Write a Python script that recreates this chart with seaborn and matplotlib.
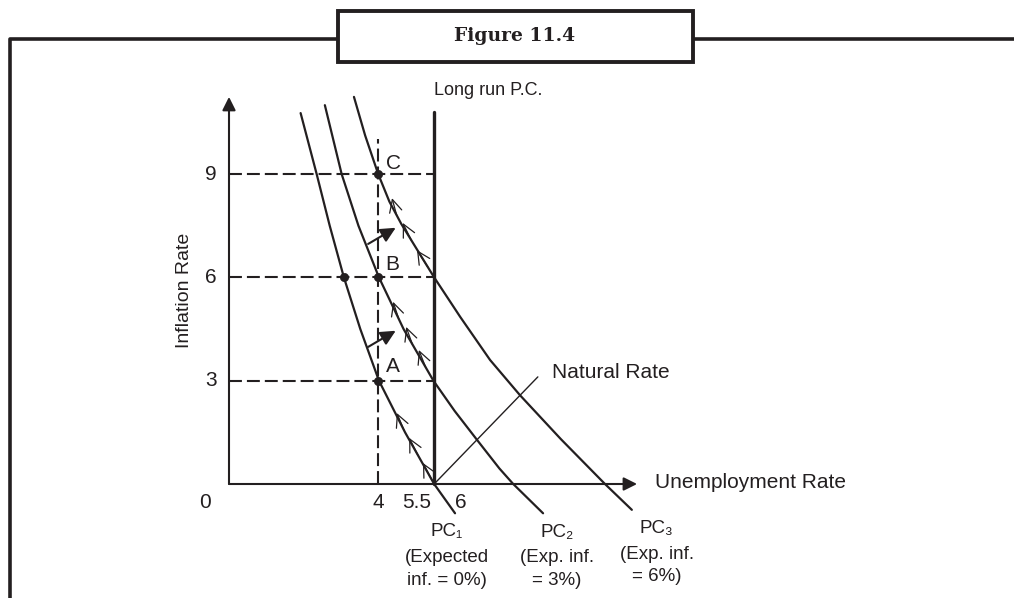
import numpy as np
import pandas as pd
import matplotlib.pyplot as plt
import seaborn as sns
from matplotlib.patches import Rectangle

# Phillips curves (unemployment %, inflation %)
pc1_x = [1.92, 2.35, 2.70, 3.08, 3.52, 4.02, 4.72, 5.5, 6.06]
pc1_y = [10.77, 9.0, 7.5, 6.0, 4.5, 3.0, 1.5, 0.0, -0.85]
pc2_x = [2.57, 3.02, 3.47, 4.02, 4.68, 5.48, 6.05, 6.65, 7.25, 7.62, 8.42]
pc2_y = [11.0, 9.0, 7.5, 6.0, 4.5, 3.0, 2.12, 1.28, 0.45, 0.0, -0.85]
pc3_x = [3.35, 3.65, 4.0, 4.30, 4.62, 5.5, 6.2, 7.0, 7.8, 8.9, 10.08, 10.8]
pc3_y = [11.24, 10.12, 9.0, 8.2, 7.55, 6.0, 4.85, 3.6, 2.58, 1.3, 0.0, -0.75]

natural_rate = 5.5
long_run_top = 10.8
natural_x = [5.5, 8.28]
natural_y = [0.0, 3.11]

inflation_levels = [3, 6, 9]
actual_u = 4
actual_u_top = 10.02

dots_x = [4, 4, 4, 3.08]
dots_y = [3, 6, 9, 6]
point_names = ['A', 'B', 'C']

# small arrow marks along the curves (tip positions)
chev_pc1 = [(4.50, 2.06), (4.83, 1.34), (5.20, 0.61)]
chev_pc2 = [(4.40, 5.29), (4.75, 4.56), (5.09, 3.89)]
chev_pc3 = [(4.37, 8.30), (4.66, 7.58), (5.04, 6.79)]

# shifts of the short run curve
shift_from = [(3.73, 3.98), (3.73, 6.97)]
shift_to = [(4.47, 4.45), (4.47, 7.44)]

x_tick_labels = ['0', '4', '5.5', '6']
y_tick_labels = ['3', '6', '9']
pc_names = ['PC\u2081', 'PC\u2082', 'PC\u2083']
pc_notes = [['(Expected', 'inf. = 0%)'], ['(Exp. inf.', '= 3%)'], ['(Exp. inf.', '= 6%)']]

ink = '#231f20'

sns.set_theme(style='white')
plt.rcParams['font.family'] = ['Liberation Sans', 'DejaVu Sans']

W, H = 1014, 598
fig = plt.figure(figsize=(W / 100, H / 100), dpi=100)
ax = fig.add_axes([0, 0, 1, 1])
# pixel mapping of the drawing
x0, xs, y0, ys = 229, 37.3, 484, 34.44
ax.set_xlim(-x0 / xs, (W - x0) / xs)
ax.set_ylim(-(H - y0) / ys, y0 / ys)
ax.axis('off')

# outer frame and title box
ax.plot([10 / W, 10 / W, 1.0], [0.0, 1 - 38.5 / H, 1 - 38.5 / H], transform=ax.transAxes,
        color=ink, lw=2.6, clip_on=False, solid_capstyle='butt')
ax.add_patch(Rectangle((338 / W, 1 - 62 / H), 355 / W, 51 / H, transform=ax.transAxes,
                       facecolor='white', edgecolor=ink, lw=2.8, zorder=5))
ax.text(515 / W, 1 - 36 / H, 'Figure 11.4', transform=ax.transAxes, ha='center', va='center',
        fontsize=13.5, fontweight='bold', family=['DejaVu Serif'], color=ink, zorder=6)

# axes with arrow heads
ax.annotate('', xy=(0, 11.24), xytext=(0, 0),
            arrowprops=dict(arrowstyle='-|>', color=ink, lw=1.5, mutation_scale=20, shrinkA=0, shrinkB=0))
ax.annotate('', xy=(10.94, 0), xytext=(0, 0),
            arrowprops=dict(arrowstyle='-|>', color=ink, lw=1.5, mutation_scale=20, shrinkA=0, shrinkB=0))

# dashed guides
dash = (0, (6.2, 2.4))
for lvl in inflation_levels:
    ax.plot([0, natural_rate], [lvl, lvl], color=ink, lw=1.5, ls=dash)
ax.plot([actual_u, actual_u], [0, actual_u_top], color=ink, lw=1.5, ls=dash)

# long run curve and natural rate pointer
ax.plot([natural_rate, natural_rate], [0, long_run_top], color=ink, lw=2.4)
sns.lineplot(x=natural_x, y=natural_y, color=ink, lw=1.0, ax=ax, sort=False, estimator=None)

# short run curves
for cx, cy in [(pc1_x, pc1_y), (pc2_x, pc2_y), (pc3_x, pc3_y)]:
    sns.lineplot(x=cx, y=cy, color=ink, lw=1.6, ax=ax, sort=False, estimator=None)

sns.scatterplot(x=dots_x, y=dots_y, color=ink, s=36, edgecolor=ink, ax=ax, zorder=4)

# open arrow marks pointing up along each curve
for marks, cx, cy in [(chev_pc1, pc1_x, pc1_y), (chev_pc2, pc2_x, pc2_y), (chev_pc3, pc3_x, pc3_y)]:
    for tx, ty in marks:
        tail_y = ty - 0.5
        tail_x = np.interp(-tail_y, -np.array(cy), np.array(cx))
        ax.annotate('', xy=(tx, ty), xytext=(tail_x, tail_y),
                    arrowprops=dict(arrowstyle='->,head_length=0.6,head_width=0.3', color=ink,
                                    lw=0.9, mutation_scale=15, shrinkA=0, shrinkB=0))

for (fx, fy), (hx, hy) in zip(shift_from, shift_to):
    ax.annotate('', xy=(hx, hy), xytext=(fx, fy),
                arrowprops=dict(arrowstyle='-|>,head_length=0.45,head_width=0.22', color=ink,
                                lw=1.5, mutation_scale=20, shrinkA=0, shrinkB=0))

# labels
fs = 15
for name, (lx, ly) in zip(point_names, [(4.40, 3.40), (4.37, 6.36), (4.40, 9.32)]):
    ax.text(lx, ly, name, ha='center', va='center', fontsize=fs, color=ink)

for lab, ty in zip(y_tick_labels, inflation_levels):
    ax.text(-0.48, ty, lab, ha='center', va='center', fontsize=fs, color=ink)
for lab, tx in zip(x_tick_labels, [-0.64, 4.0, 5.04, 6.22]):
    ax.text(tx, -0.55, lab, ha='center', va='center', fontsize=fs, color=ink)

ax.text(-1.18, 5.63, 'Inflation Rate', rotation=90, ha='center', va='center', fontsize=14, color=ink)
ax.text(11.42, 0.03, 'Unemployment Rate', ha='left', va='center', fontsize=15, color=ink)
ax.text(8.66, 3.25, 'Natural Rate', ha='left', va='center', fontsize=15, color=ink)
ax.text(6.94, 11.43, 'Long run P.C.', ha='center', va='center', fontsize=13, color=ink)

for name, note, cx, ny, (l1, l2) in zip(pc_names, pc_notes, [5.83, 8.79, 11.47],
                                         [-1.39, -1.42, -1.28], [(-2.12, -2.79), (-2.12, -2.79), (-2.06, -2.70)]):
    ax.text(cx, ny, name, ha='center', va='center', fontsize=13.5, color=ink)
    ax.text(cx, l1, note[0], ha='center', va='center', fontsize=13.5, color=ink)
    ax.text(cx, l2, note[1], ha='center', va='center', fontsize=13.5, color=ink)

fig.savefig('out.png', dpi=100)
